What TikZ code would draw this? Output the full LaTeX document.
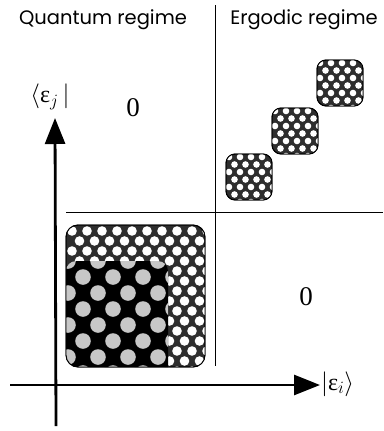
\documentclass[tikz,border=0pt]{standalone}
\usepackage{fontspec}
\newfontfamily\titlefont{Poppins}
\newfontfamily\serif{Liberation Serif}
\usetikzlibrary{arrows.meta}

\begin{document}
\begin{tikzpicture}[x=1pt,y=-1pt,
  title/.style={font=\titlefont\fontsize{19.5}{20}\selectfont,inner sep=0pt},
  zero/.style={font=\serif\fontsize{27}{27}\selectfont,inner sep=0pt},
  ket/.style={font=\fontsize{24}{24}\selectfont,inner sep=0pt},
  divider/.style={line width=0.8pt},
  axis/.style={line width=2.8pt,-{Triangle[length=26pt,width=20pt]}},
  mesh/.style={fill=black!82,draw=black,line width=0.9pt},
  hole/.style={fill=white},
  spot/.style={fill=black!22}]

\useasboundingbox (0,0) rectangle (383,431);

% headings
\node[title] (qtitle) at (103,20) {Quantum regime};
\node[title] (etitle) at (304,20) {Ergodic regime};

% regime dividers
\coordinate (vtop) at (215,5);
\coordinate (vbot) at (215,366);
\coordinate (hleft) at (66,212);
\coordinate (hright) at (383,212);
\draw[divider] (vtop) -- (vbot);
\draw[divider] (hleft) -- (hright);

% big block, quantum regime
\draw[mesh,rounded corners=12pt] (66,225) rectangle (205,367);
\begin{scope}
  \clip[rounded corners=12pt] (66,225) rectangle (205,367);
  \foreach \r in {0,...,14} {
    \pgfmathsetmacro\yy{231+10*\r}
    \pgfmathsetmacro\off{mod(\r,2)*7.5}
    \foreach \c in {0,...,9}
      \fill[hole] ({72+\off+15*\c},\yy) circle (4.8);
  }
  \fill[black,rounded corners=10pt] (66,261) rectangle (168,395);
  \clip[rounded corners=10pt] (66,261) rectangle (168,395);
  \foreach \r in {0,...,7} {
    \pgfmathsetmacro\yy{261+16*\r}
    \pgfmathsetmacro\off{mod(\r,2)*15}
    \foreach \c in {-1,...,3}
      \fill[spot] ({68+\off+30*\c},\yy) circle (7.8);
  }
\end{scope}
\draw[line width=0.9pt,rounded corners=12pt] (66,225) rectangle (205,367);

% small blocks, ergodic regime
\foreach \bx/\by in {226/154, 272/108, 317/60} {
  \draw[mesh,rounded corners=9pt] (\bx,\by) rectangle ++(46,46);
  \begin{scope}
    \clip[rounded corners=9pt] (\bx,\by) rectangle ++(46,46);
    \foreach \r in {0,...,6} {
      \pgfmathsetmacro\yy{\by+3+7.5*\r}
      \pgfmathsetmacro\off{mod(\r,2)*5.5}
      \foreach \c in {0,...,4}
        \fill[hole] ({\bx+3+\off+11*\c},\yy) circle (3.3);
    }
  \end{scope}
  \draw[line width=0.9pt,rounded corners=9pt] (\bx,\by) rectangle ++(46,46);
}

% axes
\coordinate (yfoot) at (56,426);
\coordinate (ytip) at (55,118);
\coordinate (xfoot) at (10,385);
\coordinate (xtip) at (320,385);
\draw[axis] (yfoot) -- (ytip);
\draw[axis] (xfoot) -- (xtip);

\node[ket] (ylab) at (50,97) {$\langle\mbox{\serif ε}_j\,|$};
\node[ket,anchor=west] (xlab) at (321,384) {$|\mbox{\serif ε}_i\rangle$};

\node[zero] (zeroq) at (133,108) {0};
\node[zero] (zeroe) at (306,297) {0};
\end{tikzpicture}
\end{document}
